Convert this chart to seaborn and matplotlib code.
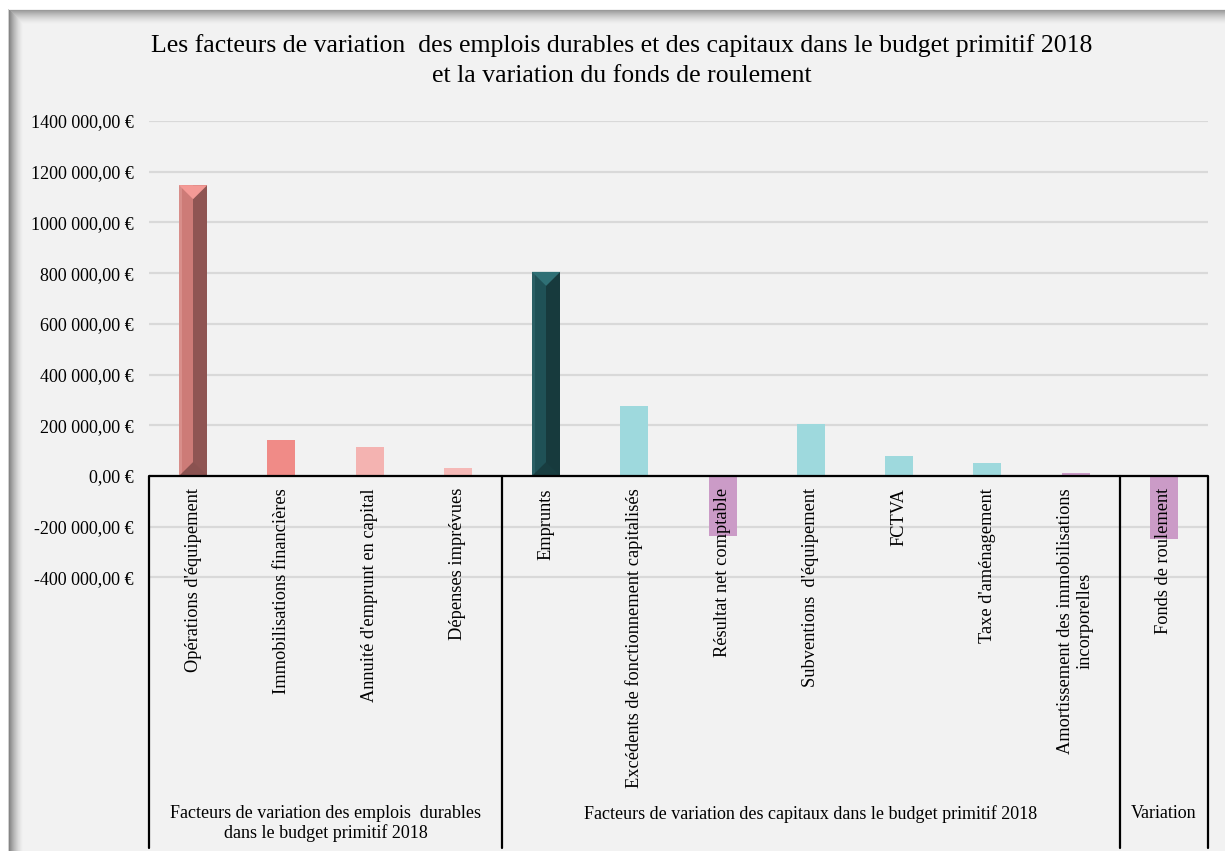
import numpy as np
import pandas as pd
import matplotlib
matplotlib.use("Agg")
import matplotlib.pyplot as plt
import matplotlib.transforms as mtransforms
from matplotlib.patches import Rectangle, Polygon
import seaborn as sns

# Données
categories = [
    "Opérations d'équipement",
    "Immobilisations financières",
    "Annuité d'emprunt en capital",
    "Dépenses imprévues",
    "Emprunts",
    "Excédents de fonctionnement capitalisés",
    "Résultat net comptable",
    "Subventions  d'équipement",
    "FCTVA",
    "Taxe d'aménagement",
    "Amortissement des immobilisations\nincorporelles",
    "Fonds de roulement",
]
values = [1147000, 141000, 114000, 32000,
          805000, 276000, -237000, 205000, 79000, 51000, 12000,
          -248000]
bar_colors = ["#CD7B77", "#F08B87", "#F4B3B1", "#F5B9B7",
              "#1F5156", "#9ED9DD", "#CB9BC7", "#9ED9DD", "#9ED9DD", "#9ED9DD", "#CB9BC7",
              "#CB9BC7"]

groups = ["Facteurs de variation des emplois  durables\ndans le budget primitif 2018",
          "Facteurs de variation des capitaux dans le budget primitif 2018",
          "Variation"]
group_sizes = [4, 7, 1]

yticks = [-400000, -200000, 0, 200000, 400000, 600000, 800000, 1000000, 1200000, 1400000]
ytick_labels = ["-400 000,00 €", "-200 000,00 €", "0,00 €", "200 000,00 €", "400 000,00 €",
                "600 000,00 €", "800 000,00 €", "1000 000,00 €", "1200 000,00 €", "1400 000,00 €"]

title = ("Les facteurs de variation  des emplois durables et des capitaux dans le budget primitif 2018\n"
         "et la variation du fonds de roulement")

# barres avec effet biseau : (clair gauche, sombre droite, triangle haut, triangle bas)
bevel = {
    "Opérations d'équipement": ("#D88E8A", "#8F5553", "#F49A96", "#8A5250"),
    "Emprunts": ("#2A5F64", "#173A3D", "#2F7075", "#183D40"),
}

df = pd.DataFrame({"categorie": categories, "valeur": values})

W, H = 1225, 851
def fx(px):
    return px / W
def fy(py):
    return 1 - py / H

serif = ["Liberation Serif", "DejaVu Serif"]

sns.set_style("white")
plt.rcParams["font.family"] = serif
plt.rcParams["text.color"] = "black"
plt.rcParams["ytick.color"] = "black"
plt.rcParams["ytick.labelcolor"] = "black"

fig = plt.figure(figsize=(12.25, 8.51), dpi=100, facecolor="white")

# cadre gris avec ombre intérieure
fig.add_artist(Rectangle((fx(8), 0), 1 - fx(8), fy(9), transform=fig.transFigure,
                         facecolor="#F2F2F2", edgecolor="none", zorder=-10))
for i in range(14):
    a = 0.45 * (1 - i / 14) ** 1.5
    fig.add_artist(Rectangle((fx(9 + i), 0), 1 / W, fy(10 + i), transform=fig.transFigure,
                             facecolor="black", alpha=a, edgecolor="none", zorder=-9))
    fig.add_artist(Rectangle((fx(10 + i), fy(10 + i) - 1 / H), 1 - fx(10 + i), 1 / H,
                             transform=fig.transFigure, facecolor="black", alpha=a * 0.8,
                             edgecolor="none", zorder=-9))
fig.add_artist(Rectangle((fx(8), 0), 1 / W, fy(9), transform=fig.transFigure,
                         facecolor="#D0D0D0", edgecolor="none", zorder=-8))

# zone de tracé : 0 à y=476 px, 1400000 à y=121 px
top_px, zero_px, bottom_px = 121, 476, 848
per_px = 1400000 / (zero_px - top_px)
ymin = -(bottom_px - zero_px) * per_px

ax = fig.add_axes([fx(149), fy(bottom_px), fx(1208) - fx(149), fy(top_px) - fy(bottom_px)])
ax.patch.set_visible(False)

sns.barplot(data=df, x="categorie", y="valeur", hue="categorie", order=categories,
            hue_order=categories, palette=dict(zip(categories, bar_colors)),
            width=0.32, saturation=1, legend=False, ax=ax, zorder=3, linewidth=0)

ax.set_xlim(-0.5, len(categories) - 0.5)
ax.set_ylim(ymin, 1400000)
ax.set_yticks(yticks)
ax.set_yticklabels(ytick_labels, fontsize=13, family=serif, color="black")
ax.tick_params(axis="y", length=0, pad=11)
ax.set_xticks([])
ax.set_xlabel("")
ax.set_ylabel("")
ax.yaxis.grid(True, color="#D9D9D9", linewidth=1.6)
ax.set_axisbelow(True)
for s in ax.spines.values():
    s.set_visible(False)

# effet biseau
for p in ax.patches:
    idx = int(round(p.get_x() + p.get_width() / 2))
    name = categories[idx]
    if name not in bevel:
        continue
    light, dark, tri_top, tri_bot = bevel[name]
    x0, w, h = p.get_x(), p.get_width(), p.get_height()
    xm = x0 + w / 2
    d = 14 * per_px
    ax.add_patch(Rectangle((x0, 0), w * 0.1, h, facecolor=light, edgecolor="none", zorder=4))
    ax.add_patch(Rectangle((xm, 0), w / 2, h, facecolor=dark, edgecolor="none", zorder=4))
    ax.add_patch(Polygon([(x0, h), (x0 + w, h), (xm, h - d)], closed=True,
                         facecolor=tri_top, edgecolor="none", zorder=5))
    ax.add_patch(Polygon([(x0, 0), (x0 + w, 0), (xm, d)], closed=True,
                         facecolor=tri_bot, edgecolor="none", zorder=5))

# axe zéro et séparateurs de groupes
ax.axhline(0, color="black", linewidth=1.6, zorder=6)
bounds = np.concatenate([[0], np.cumsum(group_sizes)]) - 0.5
for b in bounds:
    ax.plot([b, b], [ymin, 0], color="black", linewidth=1.6, zorder=6, clip_on=False)

# étiquettes des catégories
lab_tr = mtransforms.offset_copy(ax.transData, fig=fig, y=-12, units="dots")
for i, name in enumerate(categories):
    ax.text(i, 0, name, rotation=90, ha="center", va="top", multialignment="center",
            fontsize=13.2, family=serif, color="black", transform=lab_tr, zorder=7)

# étiquettes des groupes
grp_tr = mtransforms.blended_transform_factory(ax.transData, ax.transAxes)
for g, a, b in zip(groups, bounds[:-1], bounds[1:]):
    ax.text((a + b) / 2, (bottom_px - 805) / (bottom_px - top_px), g, ha="center", va="top",
            multialignment="center", fontsize=13, family=serif, color="black",
            transform=grp_tr, linespacing=1.15)

fig.text(fx(622), fy(34), title, ha="center", va="top", fontsize=18.5, family=serif,
         color="black", linespacing=1.5)

fig.savefig("out.png", dpi=100, facecolor=fig.get_facecolor())
